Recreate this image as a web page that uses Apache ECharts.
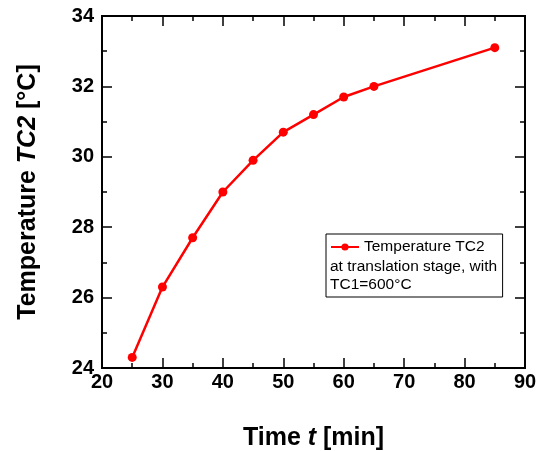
<!DOCTYPE html>
<html>
<head>
<meta charset="utf-8">
<script src="https://cdn.jsdelivr.net/npm/echarts@6/dist/echarts.min.js"></script>
<style>
  html, body { margin: 0; padding: 0; background: #fff; }
  #chart { width: 536px; height: 451px; }
</style>
</head>
<body>
<div id="chart"></div>
<script>
// time [min] and temperature TC2 [°C]
const timeMin = [25, 30, 35, 40, 45, 50, 55, 60, 65, 85];
const tempTC2 = [24.3, 26.3, 27.7, 29.0, 29.9, 30.7, 31.2, 31.7, 32.0, 33.1];
const seriesName = "Temperature TC2";
const legendExtra = ["at translation stage, with", "TC1=600°C"];

const FONT = "Liberation Sans, Arial, sans-serif";
const chart = echarts.init(document.getElementById("chart"));

const tickStyle = { color: "#000", width: 1.5 };
const titleStyle = {
  color: "#000",
  fontSize: 25,
  fontWeight: "bold",
  fontFamily: FONT,
  rich: {
    i: { fontSize: 25, fontWeight: "bold", fontStyle: "italic", fontFamily: FONT, color: "#000" },
  },
};

const option = {
  animation: false,
  backgroundColor: "#fff",
  grid: {
    left: 102,
    right: 11,
    top: 16,
    bottom: 83,
    outerBoundsMode: "none",
    containLabel: false,
    show: true,
    borderColor: "#000",
    borderWidth: 2,
  },
  legend: {
    left: 326,
    top: 234,
    orient: "vertical",
    data: [seriesName],
    itemWidth: 28,
    itemHeight: 9,
    padding: [5, 18, 42, 4],
    borderColor: "#000",
    borderWidth: 1,
    backgroundColor: "#fff",
    textStyle: { color: "#000", fontSize: 15.5, fontFamily: FONT },
  },
  graphic: [
    {
      type: "text",
      left: 330,
      top: 257,
      z: 100,
      style: {
        text: legendExtra.join("\n"),
        fontSize: 15.5,
        lineHeight: 18.5,
        fontFamily: FONT,
        fill: "#000",
      },
    },
  ],
  xAxis: [
    {
      type: "value",
      min: 20,
      max: 90,
      interval: 10,
      name: "Time {i|t} [min]",
      nameLocation: "middle",
      nameGap: 58,
      nameTextStyle: titleStyle,
      axisLine: { lineStyle: { color: "#000", width: 2 } },
      axisTick: { inside: true, length: 10, lineStyle: tickStyle },
      minorTick: { show: true, splitNumber: 2, length: 5, lineStyle: tickStyle },
      axisLabel: { color: "#000", fontSize: 20, fontWeight: "bold", fontFamily: FONT, margin: 4 },
      splitLine: { show: false },
    },
    {
      type: "value",
      position: "top",
      min: 20,
      max: 90,
      interval: 10,
      axisLine: { lineStyle: { color: "#000", width: 2 } },
      axisTick: { inside: true, length: 10, lineStyle: tickStyle },
      minorTick: { show: true, splitNumber: 2, length: 5, lineStyle: tickStyle },
      axisLabel: { show: false },
      splitLine: { show: false },
    },
  ],
  yAxis: [
    {
      type: "value",
      min: 24,
      max: 34,
      interval: 2,
      name: "Temperature {i|TC2} [°C]",
      nameLocation: "middle",
      nameGap: 61,
      nameTextStyle: titleStyle,
      axisLine: { show: true, lineStyle: { color: "#000", width: 2 } },
      axisTick: { show: true, inside: true, length: 10, lineStyle: tickStyle },
      minorTick: { show: true, splitNumber: 2, length: 5, lineStyle: tickStyle },
      axisLabel: { color: "#000", fontSize: 20, fontWeight: "bold", fontFamily: FONT, margin: 8 },
      splitLine: { show: false },
    },
    {
      type: "value",
      position: "right",
      min: 24,
      max: 34,
      interval: 2,
      axisLine: { show: true, lineStyle: { color: "#000", width: 2 } },
      axisTick: { show: true, inside: true, length: 10, lineStyle: tickStyle },
      minorTick: { show: true, splitNumber: 2, length: 5, lineStyle: tickStyle },
      axisLabel: { show: false },
      splitLine: { show: false },
    },
  ],
  series: [
    {
      name: seriesName,
      type: "line",
      data: timeMin.map((t, i) => [t, tempTC2[i]]),
      symbol: "circle",
      symbolSize: 9,
      itemStyle: { color: "#ff0000" },
      lineStyle: { color: "#ff0000", width: 2.5 },
    },
  ],
};

chart.setOption(option);
</script>
</body>
</html>
